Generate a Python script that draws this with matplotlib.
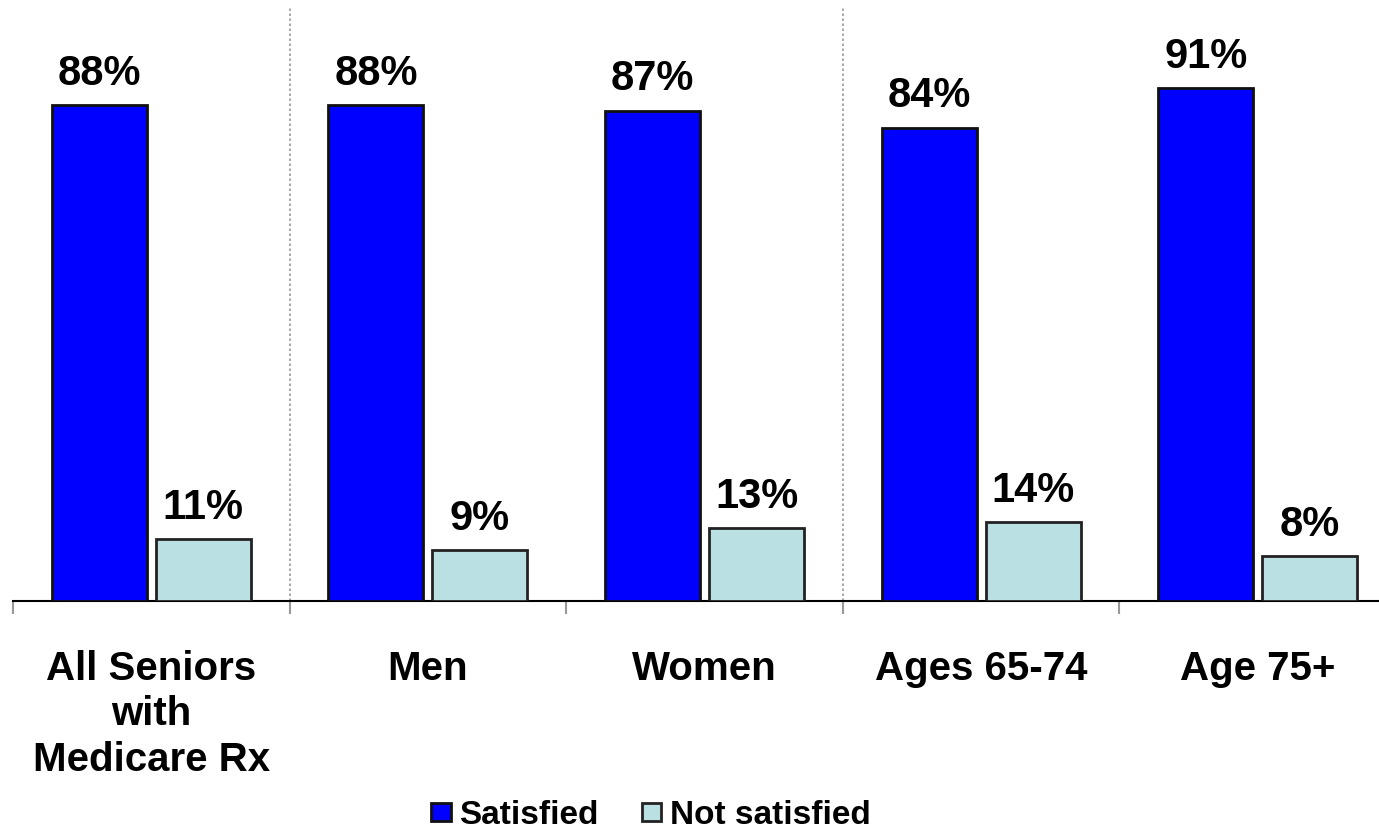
import matplotlib
matplotlib.use("Agg")
import matplotlib.pyplot as plt
import numpy as np

plt.rcParams['font.family'] = ['Liberation Sans', 'DejaVu Sans']

categories = ["All Seniors\nwith\nMedicare Rx", "Men", "Women", "Ages 65-74", "Age 75+"]
satisfied = [88, 88, 87, 84, 91]
not_satisfied = [11, 9, 13, 14, 8]

W, H = 1379, 831
fig = plt.figure(figsize=(W / 100, H / 100), dpi=100)
# axes: left edge at x=13px, baseline at y=601px, top at y=8px
ax = fig.add_axes([13 / W, (H - 601) / H, (W - 13) / W, 593 / H])

x = np.arange(len(categories))
bw = 0.344
off = 0.188
b1 = ax.bar(x - off, satisfied, bw, color='#0000FF', edgecolor='#111111', linewidth=2,
            label='Satisfied', zorder=3)
b2 = ax.bar(x + off, not_satisfied, bw, color='#BBE0E3', edgecolor='#222222', linewidth=2,
            label='Not satisfied', zorder=3)

for bars, vals in [(b1, satisfied), (b2, not_satisfied)]:
    for r, v in zip(bars, vals):
        ax.annotate(f"{v}%", (r.get_x() + r.get_width() / 2, r.get_height()),
                    xytext=(0, 8), textcoords='offset points', ha='center', va='bottom',
                    fontsize=30, fontweight='bold')

# dotted separators
for sx in [0.5, 2.5]:
    ax.plot([sx, sx], [0, 105.2], linestyle=(0, (1.5, 1.5)), color='#999999', linewidth=1.2,
            clip_on=False, zorder=1)

for s in ['left', 'top', 'right']:
    ax.spines[s].set_visible(False)
ax.spines['bottom'].set_color('black')
ax.spines['bottom'].set_linewidth(1.5)
ax.set_yticks([])

ax.set_xticks(x)
ax.set_xticklabels(categories, fontsize=29, fontweight='bold', linespacing=1.25)
ax.tick_params(axis='x', which='major', length=0, pad=35)
ax.set_xticks(np.arange(-0.5, 4.0, 1), minor=True)
ax.tick_params(axis='x', which='minor', length=9, width=1.5, color='#999999')

ax.set_xlim(-0.5, -0.5 + (W - 13) / 276.6)
ax.set_ylim(0, 105.2)

fig.legend(handles=[b1, b2], loc='center', bbox_to_anchor=(0.472, (H - 815) / H),
           ncol=2, frameon=False, prop={'weight': 'bold', 'size': 24},
           handlelength=0.58, handleheight=0.45, handletextpad=0.25, columnspacing=1.3)

fig.savefig("out.png", dpi=100)
